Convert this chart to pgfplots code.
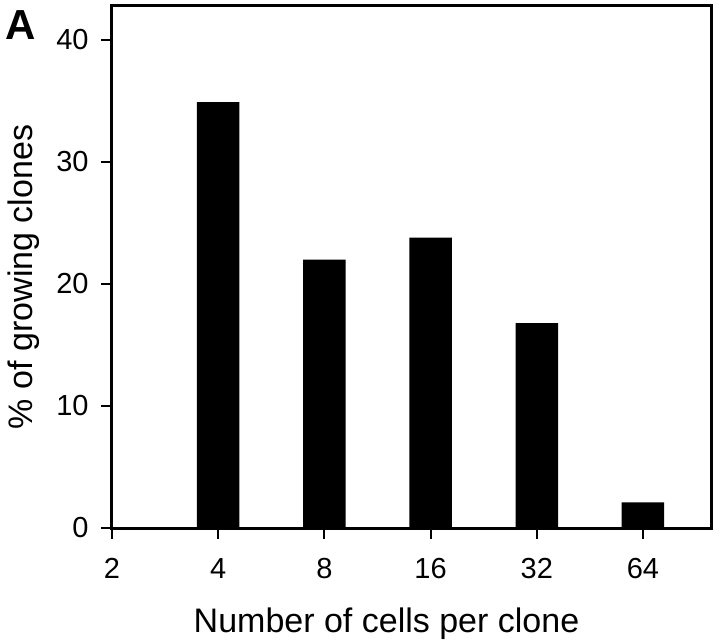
\documentclass[border=0pt]{standalone}
\usepackage{fontspec}
\setmainfont{Liberation Sans}
\usepackage{pgfplots}
\pgfplotsset{compat=1.18}

\begin{document}
\begin{tikzpicture}
\begin{axis}[
    scale only axis,
    width=300pt, height=261.5pt,
    xmin=0, xmax=5.65,
    ymin=0, ymax=42.87,
    ybar, bar width=0.4,
    xtick={0,1,2,3,4,5},
    xticklabels={2,4,8,16,32,64},
    ytick={0,10,20,30,40},
    xtick pos=bottom, ytick pos=left,
    tick align=outside,
    major tick length=5.5pt,
    axis line style={line width=1.5pt},
    every tick/.style={black, line width=1pt},
    tick label style={font=\fontsize{14.5}{16}\selectfont, inner sep=0pt},
    /pgf/number format/assume math mode=true,
    xticklabel style={anchor=north, yshift=-9.5pt},
    yticklabel style={anchor=east, xshift=-6pt},
    xlabel={Number of cells per clone},
    ylabel={\% of growing clones},
    label style={font=\fontsize{17}{20}\selectfont, inner sep=0pt},
    xlabel style={at={(axis description cs:0.4575,-0.199)}, anchor=base},
    ylabel style={at={(axis description cs:-0.1317,0.48)}, anchor=base},
]
\addplot[fill=black, draw=none] coordinates {(1,34.9) (2,22.0) (3,23.8) (4,16.8) (5,2.1)};
\end{axis}
\node[anchor=north west, inner sep=0pt, font=\bfseries\fontsize{21}{21}\selectfont] at ([xshift=-53.5pt,yshift=-2.5pt]current axis.north west) {A};
\pgfresetboundingbox
\path[use as bounding box] ([xshift=-56pt,yshift=-58pt]current axis.south west) rectangle ([xshift=304pt,yshift=264pt]current axis.south west);
\end{tikzpicture}
\end{document}
